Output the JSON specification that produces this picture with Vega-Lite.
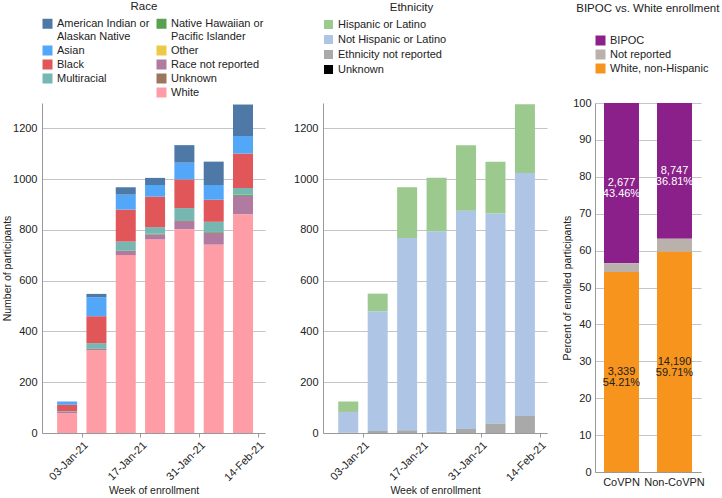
{
  "$schema": "https://vega.github.io/schema/vega-lite/v6.json",
  "padding": {"left": 2, "top": 0, "right": 4, "bottom": 2},
  "config": {
    "font": "Liberation Sans",
    "view": {"stroke": null},
    "axis": {"labelFontSize": 11, "titleFontSize": 10.5, "titleFontWeight": "normal", "labelColor": "#222", "titleColor": "#222", "domainColor": "#999", "gridColor": "#c4c4c4", "tickColor": "#999"},
    "legend": {"labelFontSize": 11, "labelColor": "#222", "symbolType": "square", "symbolStrokeWidth": 0, "padding": 0},
    "title": {"fontSize": 11.5, "fontWeight": "normal", "color": "#222", "anchor": "middle", "frame": "bounds"}
  },
  "resolve": {"scale": {"color": "independent", "y": "independent", "x": "independent"}, "legend": {"color": "independent"}},
  "datasets": {
    "race": [
      {"week": "2020-12-27", "race": "White", "n": 78},
      {"week": "2020-12-27", "race": "Race not reported", "n": 5},
      {"week": "2020-12-27", "race": "Multiracial", "n": 3},
      {"week": "2020-12-27", "race": "Black", "n": 25},
      {"week": "2020-12-27", "race": "Asian", "n": 12},
      {"week": "2020-12-27", "race": "American Indian or Alaskan Native", "n": 1},
      {"week": "2021-01-03", "race": "White", "n": 326},
      {"week": "2021-01-03", "race": "Race not reported", "n": 6},
      {"week": "2021-01-03", "race": "Native Hawaiian or Pacific Islander", "n": 2},
      {"week": "2021-01-03", "race": "Multiracial", "n": 20},
      {"week": "2021-01-03", "race": "Black", "n": 106},
      {"week": "2021-01-03", "race": "Asian", "n": 75},
      {"week": "2021-01-03", "race": "American Indian or Alaskan Native", "n": 13},
      {"week": "2021-01-10", "race": "White", "n": 701},
      {"week": "2021-01-10", "race": "Race not reported", "n": 16},
      {"week": "2021-01-10", "race": "Native Hawaiian or Pacific Islander", "n": 2},
      {"week": "2021-01-10", "race": "Multiracial", "n": 35},
      {"week": "2021-01-10", "race": "Black", "n": 126},
      {"week": "2021-01-10", "race": "Asian", "n": 59},
      {"week": "2021-01-10", "race": "American Indian or Alaskan Native", "n": 29},
      {"week": "2021-01-17", "race": "White", "n": 763},
      {"week": "2021-01-17", "race": "Race not reported", "n": 19},
      {"week": "2021-01-17", "race": "Native Hawaiian or Pacific Islander", "n": 3},
      {"week": "2021-01-17", "race": "Multiracial", "n": 26},
      {"week": "2021-01-17", "race": "Black", "n": 120},
      {"week": "2021-01-17", "race": "Asian", "n": 46},
      {"week": "2021-01-17", "race": "American Indian or Alaskan Native", "n": 28},
      {"week": "2021-01-24", "race": "White", "n": 803},
      {"week": "2021-01-24", "race": "Race not reported", "n": 32},
      {"week": "2021-01-24", "race": "Native Hawaiian or Pacific Islander", "n": 3},
      {"week": "2021-01-24", "race": "Multiracial", "n": 48},
      {"week": "2021-01-24", "race": "Black", "n": 113},
      {"week": "2021-01-24", "race": "Asian", "n": 66},
      {"week": "2021-01-24", "race": "American Indian or Alaskan Native", "n": 69},
      {"week": "2021-01-31", "race": "White", "n": 742},
      {"week": "2021-01-31", "race": "Race not reported", "n": 47},
      {"week": "2021-01-31", "race": "Native Hawaiian or Pacific Islander", "n": 3},
      {"week": "2021-01-31", "race": "Multiracial", "n": 40},
      {"week": "2021-01-31", "race": "Black", "n": 87},
      {"week": "2021-01-31", "race": "Asian", "n": 58},
      {"week": "2021-01-31", "race": "American Indian or Alaskan Native", "n": 92},
      {"week": "2021-02-07", "race": "White", "n": 862},
      {"week": "2021-02-07", "race": "Race not reported", "n": 72},
      {"week": "2021-02-07", "race": "Native Hawaiian or Pacific Islander", "n": 5},
      {"week": "2021-02-07", "race": "Multiracial", "n": 26},
      {"week": "2021-02-07", "race": "Black", "n": 136},
      {"week": "2021-02-07", "race": "Asian", "n": 69},
      {"week": "2021-02-07", "race": "American Indian or Alaskan Native", "n": 124}
    ],
    "ethnicity": [
      {"week": "2020-12-27", "ethnicity": "Ethnicity not reported", "n": 2},
      {"week": "2020-12-27", "ethnicity": "Not Hispanic or Latino", "n": 81},
      {"week": "2020-12-27", "ethnicity": "Hispanic or Latino", "n": 41},
      {"week": "2021-01-03", "ethnicity": "Ethnicity not reported", "n": 8},
      {"week": "2021-01-03", "ethnicity": "Not Hispanic or Latino", "n": 472},
      {"week": "2021-01-03", "ethnicity": "Hispanic or Latino", "n": 69},
      {"week": "2021-01-10", "ethnicity": "Ethnicity not reported", "n": 11},
      {"week": "2021-01-10", "ethnicity": "Not Hispanic or Latino", "n": 757},
      {"week": "2021-01-10", "ethnicity": "Hispanic or Latino", "n": 200},
      {"week": "2021-01-17", "ethnicity": "Ethnicity not reported", "n": 5},
      {"week": "2021-01-17", "ethnicity": "Not Hispanic or Latino", "n": 790},
      {"week": "2021-01-17", "ethnicity": "Hispanic or Latino", "n": 211},
      {"week": "2021-01-24", "ethnicity": "Ethnicity not reported", "n": 16},
      {"week": "2021-01-24", "ethnicity": "Not Hispanic or Latino", "n": 860},
      {"week": "2021-01-24", "ethnicity": "Hispanic or Latino", "n": 258},
      {"week": "2021-01-31", "ethnicity": "Ethnicity not reported", "n": 38},
      {"week": "2021-01-31", "ethnicity": "Not Hispanic or Latino", "n": 827},
      {"week": "2021-01-31", "ethnicity": "Hispanic or Latino", "n": 204},
      {"week": "2021-02-07", "ethnicity": "Ethnicity not reported", "n": 67},
      {"week": "2021-02-07", "ethnicity": "Not Hispanic or Latino", "n": 957},
      {"week": "2021-02-07", "ethnicity": "Hispanic or Latino", "n": 271}
    ],
    "bipoc": [
      {"group": "CoVPN", "cat": "BIPOC", "pct": 43.46, "count": 2677},
      {"group": "CoVPN", "cat": "Not reported", "pct": 2.33, "count": 143},
      {"group": "CoVPN", "cat": "White, non-Hispanic", "pct": 54.21, "count": 3339},
      {"group": "Non-CoVPN", "cat": "BIPOC", "pct": 36.81, "count": 8747},
      {"group": "Non-CoVPN", "cat": "Not reported", "pct": 3.48, "count": 828},
      {"group": "Non-CoVPN", "cat": "White, non-Hispanic", "pct": 59.71, "count": 14190}
    ]
  },
  "hconcat": [
    {
      "resolve": {"scale": {"color": "independent", "y": "independent", "x": "independent"}, "legend": {"color": "independent"}},
      "hconcat": [
        {
          "title": {"text": "Race", "offset": 6, "dx": 10},
          "width": 223,
          "height": 330,
          "data": {"name": "race"},
          "mark": {"type": "bar", "width": 20},
          "encoding": {
            "x": {
              "field": "week", "type": "temporal", "timeUnit": "utcyearweek", "bandPosition": 0.5, "title": "Week of enrollment",
              "scale": {"domain": [{"year": 2020, "month": 12, "date": 24, "hours": 12, "utc": true}, {"year": 2021, "month": 2, "date": 15, "hours": 18, "utc": true}], "nice": false},
              "axis": {
                "values": [{"year": 2021, "month": 1, "date": 3, "utc": true}, {"year": 2021, "month": 1, "date": 17, "utc": true}, {"year": 2021, "month": 1, "date": 31, "utc": true}, {"year": 2021, "month": 2, "date": 14, "utc": true}],
                "labelExpr": "utcFormat(datum.value, '%d-%b-%y')", "labelAngle": -45, "grid": false, "tickSize": 4, "titlePadding": 3
              }
            },
            "y": {
              "field": "n", "type": "quantitative", "stack": "zero", "title": "Number of participants",
              "scale": {"domain": [0, 1300], "nice": false},
              "axis": {"values": [0, 200, 400, 600, 800, 1000, 1200], "format": "d", "ticks": false, "labelPadding": 5, "titlePadding": 0}
            },
            "color": {
              "field": "race", "type": "nominal",
              "scale": {
                "domain": ["American Indian or Alaskan Native", "Asian", "Black", "Multiracial", " ", "Native Hawaiian or Pacific Islander", "Other", "Race not reported", "Unknown", "White"],
                "range": ["#4e79a7", "#52a7f9", "#e15759", "#76b7b2", "rgba(0,0,0,0)", "#59a14f", "#edc948", "#b07aa1", "#9c755f", "#ff9da7"]
              },
              "legend": {
                "orient": "top", "direction": "vertical", "columns": 2, "title": null, "offset": 5,
                "symbolSize": 100, "columnPadding": 6, "rowPadding": 2,
                "labelExpr": "datum.label == 'American Indian or Alaskan Native' ? ['American Indian or', 'Alaskan Native'] : datum.label == 'Native Hawaiian or Pacific Islander' ? ['Native Hawaiian or', 'Pacific Islander'] : datum.label"
              }
            },
            "order": {"field": "race", "sort": "descending"}
          }
        },
        {
          "title": {"text": "Ethnicity", "offset": 6, "dx": -9},
          "width": 224,
          "height": 330,
          "data": {"name": "ethnicity"},
          "transform": [
            {"calculate": "datum.ethnicity == 'Ethnicity not reported' ? 0 : datum.ethnicity == 'Not Hispanic or Latino' ? 1 : datum.ethnicity == 'Hispanic or Latino' ? 2 : 3", "as": "stackOrder"}
          ],
          "mark": {"type": "bar", "width": 20},
          "encoding": {
            "x": {
              "field": "week", "type": "temporal", "timeUnit": "utcyearweek", "bandPosition": 0.5, "title": "Week of enrollment",
              "scale": {"domain": [{"year": 2020, "month": 12, "date": 24, "hours": 12, "utc": true}, {"year": 2021, "month": 2, "date": 15, "hours": 18, "utc": true}], "nice": false},
              "axis": {
                "values": [{"year": 2021, "month": 1, "date": 3, "utc": true}, {"year": 2021, "month": 1, "date": 17, "utc": true}, {"year": 2021, "month": 1, "date": 31, "utc": true}, {"year": 2021, "month": 2, "date": 14, "utc": true}],
                "labelExpr": "utcFormat(datum.value, '%d-%b-%y')", "labelAngle": -45, "grid": false, "tickSize": 4, "titlePadding": 3
              }
            },
            "y": {
              "field": "n", "type": "quantitative", "stack": "zero", "title": null,
              "scale": {"domain": [0, 1300], "nice": false},
              "axis": {"values": [0, 200, 400, 600, 800, 1000, 1200], "format": "d", "ticks": false, "labelPadding": 5}
            },
            "color": {
              "field": "ethnicity", "type": "nominal",
              "scale": {
                "domain": ["Hispanic or Latino", "Not Hispanic or Latino", "Ethnicity not reported", "Unknown"],
                "range": ["#9bc98e", "#aec5e6", "#a9a9a9", "#000000"]
              },
              "legend": {"orient": "top", "direction": "vertical", "title": null, "offset": 28, "symbolSize": 81, "rowPadding": 3}
            },
            "order": {"field": "stackOrder"}
          }
        }
      ],
      "spacing": 27
    },
    {
      "title": {"text": "BIPOC vs. White enrollment", "offset": 21, "dx": 12},
      "width": 106,
      "height": 369,
      "data": {"name": "bipoc"},
      "layer": [
        {
          "mark": {"type": "bar"},
          "encoding": {
            "x": {"field": "group", "type": "nominal", "title": null, "scale": {"paddingInner": 0.34, "paddingOuter": 0.17}, "axis": {"labelAngle": 0, "ticks": false, "labelPadding": 4}},
            "y": {
              "field": "pct", "type": "quantitative", "stack": "zero", "title": "Percent of enrolled participants",
              "scale": {"domain": [0, 100], "nice": false},
              "axis": {"values": [0, 10, 20, 30, 40, 50, 60, 70, 80, 90, 100], "ticks": false, "labelPadding": 4, "titlePadding": 0, "labelOverlap": false}
            },
            "color": {
              "field": "cat", "type": "nominal",
              "scale": {"domain": ["BIPOC", "Not reported", "White, non-Hispanic"], "range": ["#8b208a", "#bab0ac", "#f7941d"]},
              "legend": {"orient": "top", "direction": "vertical", "title": null, "offset": 29, "symbolSize": 100, "rowPadding": 2}
            },
            "order": {"field": "cat", "sort": "descending"}
          }
        },
        {
          "transform": [
            {"stack": "pct", "groupby": ["group"], "sort": [{"field": "cat", "order": "descending"}], "as": ["p0", "p1"]},
            {"calculate": "(datum.p0 + datum.p1) / 2", "as": "pmid"},
            {"filter": "datum.cat != 'Not reported'"},
            {"calculate": "[format(datum.count, ','), format(datum.pct, '.2f') + '%']", "as": "lab"}
          ],
          "mark": {"type": "text", "fontSize": 11, "lineHeight": 11},
          "encoding": {
            "x": {"field": "group", "type": "nominal", "title": null, "axis": {"labelAngle": 0, "ticks": false, "labelPadding": 4}},
            "y": {
              "field": "pmid", "type": "quantitative", "title": "Percent of enrolled participants",
              "axis": {"values": [0, 10, 20, 30, 40, 50, 60, 70, 80, 90, 100], "ticks": false, "labelPadding": 4, "titlePadding": 0, "labelOverlap": false}
            },
            "text": {"field": "lab", "type": "nominal"},
            "color": {"condition": {"test": "datum.cat == 'BIPOC'", "value": "#ffffff"}, "value": "#222222"}
          }
        }
      ]
    }
  ],
  "spacing": 14
}
